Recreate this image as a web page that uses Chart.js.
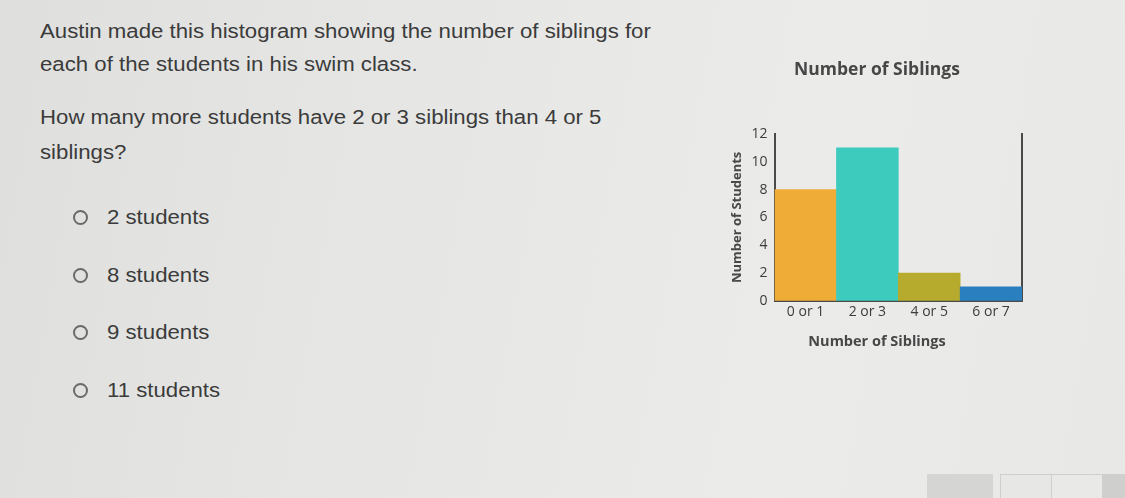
<!DOCTYPE html>
<html>
<head>
<meta charset="utf-8">
<script src="https://cdn.jsdelivr.net/npm/chart.js@4"></script>
<style>
  html, body { margin: 0; padding: 0; }
  body {
    width: 1125px; height: 498px; overflow: hidden; position: relative;
    background: linear-gradient(100deg, #dfe0de 0%, #e6e7e5 35%, #ebebea 70%, #e8e9e7 100%);
    font-family: "Liberation Sans", Arial, sans-serif; color: #3b3b3b;
  }
  .q, .opt span {
    font-size: 20px; line-height: 20px; white-space: nowrap;
    transform: scaleX(1.11); transform-origin: left center;
  }
  .q { position: absolute; left: 40px; }
  .opt { position: absolute; left: 73px; white-space: nowrap; height: 20px; }
  .opt span { position: absolute; left: 34px; top: 0; }
  .opt i {
    position: absolute; left: 0; top: 3px;
    width: 11px; height: 11px; border: 2px solid #6a6a6a; border-radius: 50%;
  }
  #wrap { position: absolute; left: 720px; top: 50px; width: 314px; height: 310px; }
  .btn { position: absolute; top: 474px; height: 30px; }
</style>
</head>
<body>
<div class="q" style="top:21px">Austin made this histogram showing the number of siblings for</div>
<div class="q" style="top:54px">each of the students in his swim class.</div>
<div class="q" style="top:107px">How many more students have 2 or 3 siblings than 4 or 5</div>
<div class="q" style="top:142px">siblings?</div>

<div class="opt" style="top:207px"><i></i><span>2 students</span></div>
<div class="opt" style="top:265px"><i></i><span>8 students</span></div>
<div class="opt" style="top:322px"><i></i><span>9 students</span></div>
<div class="opt" style="top:380px"><i></i><span>11 students</span></div>

<div class="btn" style="left:927px;width:66px;background:#d5d6d4;"></div>
<div class="btn" style="left:1000px;width:51px;background:#e7e8e6;border:1px solid #cfd0ce;"></div>
<div class="btn" style="left:1051px;width:50px;background:#e9eae8;border:1px solid #cfd0ce;"></div>
<div class="btn" style="left:1103px;width:22px;background:#cfd0ce;"></div>

<div id="wrap"><canvas id="chart"></canvas></div>

<script>
  const categories = ["0 or 1", "2 or 3", "4 or 5", "6 or 7"];
  const students = [8, 11, 2, 1];
  const barColors = ["#efac37", "#3dcbbd", "#b7ab2d", "#2a80bf"];
  const yTicks = [0, 2, 4, 6, 8, 10, 12];

  const textColor = "#3c3c3c";
  const chartFont = "'Open Sans', sans-serif";
  const noGrid = { display: false, drawTicks: false };

  new Chart(document.getElementById("chart"), {
    type: "bar",
    data: {
      labels: categories,
      datasets: [{
        data: students,
        backgroundColor: barColors,
        borderWidth: 0,
        barPercentage: 1,
        categoryPercentage: 1,
      }],
    },
    options: {
      responsive: true,
      maintainAspectRatio: false,
      animation: false,
      layout: { padding: { top: 10, left: 5, right: 5, bottom: 9 } },
      plugins: {
        legend: { display: false },
        tooltip: { enabled: false },
        title: {
          display: true,
          text: "Number of Siblings",
          color: "#474747",
          font: { family: chartFont, size: 17.5, weight: "bold" },
          padding: { top: 0, bottom: 53 },
        },
        subtitle: {
          display: true,
          position: "bottom",
          text: "Number of Siblings",
          color: "#474747",
          font: { family: chartFont, size: 14.5, weight: "bold" },
          padding: { top: 10, bottom: 0 },
        },
      },
      scales: {
        x: {
          grid: noGrid,
          border: { display: true, color: "#4a4a4a", width: 2 },
          ticks: { color: textColor, font: { family: chartFont, size: 14 }, padding: 3 },
        },
        y: {
          min: 0,
          max: 12,
          afterBuildTicks: (axis) => { axis.ticks = yTicks.map((v) => ({ value: v })); },
          grid: noGrid,
          border: { display: true, color: "#4a4a4a", width: 2 },
          ticks: { color: textColor, font: { family: chartFont, size: 14 }, padding: 7 },
          title: {
            display: true,
            text: "Number of Students",
            color: "#474747",
            font: { family: chartFont, size: 13, weight: "bold" },
            padding: { top: 4, bottom: 0 },
          },
        },
        y2: {
          position: "right",
          min: 0,
          max: 12,
          afterFit: (axis) => { axis.width = 7; },
          grid: noGrid,
          border: { display: true, color: "#4a4a4a", width: 2 },
          ticks: { display: false },
        },
      },
    },
  });
</script>
</body>
</html>
